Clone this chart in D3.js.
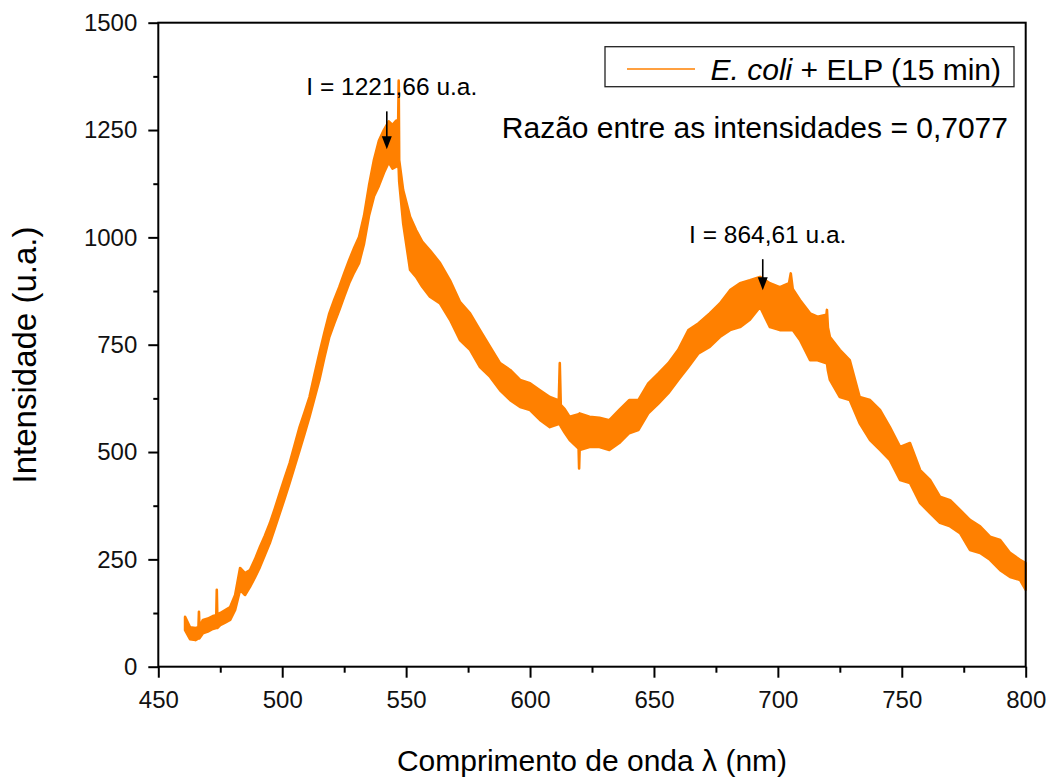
<!DOCTYPE html>
<html>
<head>
<meta charset="utf-8">
<script src="https://cdn.jsdelivr.net/npm/d3@7"></script>
<style>
  body { margin: 0; background: #fff; }
  text { font-family: "Liberation Sans", Arial, sans-serif; }
</style>
</head>
<body>
<div id="chart"></div>
<script>
// Spectrum envelope (the trace is very noisy, so it is drawn as a band
// between the upper and lower edges read off the picture)
const wavelength = [
  460.8, 462.8, 465, 466.2, 466.4, 466.6, 468, 470, 472, 473.4, 473.6, 473.8,
  475, 477, 479, 481, 483, 485, 487, 489, 491, 493, 495, 497, 499, 501, 503,
  505, 507, 509, 511, 513, 515, 517, 519, 521, 523, 525, 527, 529, 531, 533,
  535, 537, 539, 541, 543, 544.5, 546, 546.8, 547.0, 547.2, 548.8, 551.6, 554,
  556.5, 559.6, 563.7, 567.7, 571.7, 575.8, 579.8, 583.9, 587.9, 592, 596, 600,
  604, 608, 611.6, 612, 612.4, 614, 616, 619.6, 619.8, 620, 624, 628, 632, 636,
  640, 643.7, 647.7, 651.8, 655.8, 659.8, 663.9, 668, 672.5, 676.6, 680.7,
  684.7, 688.7, 692.8, 696.8, 700.8, 704.5, 705.2, 706, 708.9, 713, 716, 719.6,
  719.8, 720.2, 721, 725, 729, 733, 737.2, 741.2, 745.2, 749.3, 753.3, 757.4,
  761.4, 765.4, 769.5, 773.5, 777.5, 781.6, 785.6, 789.7, 793.7, 797.7, 800
];
const upper = [
  116, 92, 90, 92, 128, 92, 109, 112, 118, 120, 179, 122,
  125, 132, 139, 167, 230, 218, 225, 250, 279, 305, 334, 368, 404, 440, 474,
  516, 558, 592, 628, 680, 730, 778, 823, 855, 884, 916, 947, 975, 1001, 1050,
  1120, 1180, 1225, 1250, 1270, 1262, 1272, 1272, 1365, 1180, 1110, 1048, 1017,
  990, 970, 940, 900, 850, 823, 784, 745, 707, 691, 668, 660,
  644, 628, 620, 707, 610, 600, 582, 588, 588, 590, 582, 580, 574, 598,
  621, 621, 660, 683, 707, 738, 784, 800, 823, 846, 877,
  893, 900, 908, 893, 884, 893, 916, 880, 854, 823, 815, 820,
  831, 790, 768, 738, 714, 628, 621, 598, 558, 512, 521, 458,
  435, 396, 388, 365, 342, 327, 303, 295, 265, 249, 241
];
const lower = [
  85, 64, 62, 66, 66, 66, 78, 82, 88, 90, 90, 90,
  97, 103, 109, 132, 179, 167, 186, 208, 232, 260, 288, 322, 357, 392, 428,
  466, 504, 542, 582, 625, 668, 720, 768, 800, 830, 862, 893, 918, 940, 985,
  1050, 1095, 1120, 1150, 1175, 1160, 1165, 1165, 1160, 1130, 1033, 924, 908,
  885, 862, 846, 808, 761, 738, 698, 675, 644, 621, 605, 598,
  575, 558, 565, 565, 560, 545, 528, 508, 462, 505, 512, 512, 505, 521,
  544, 551, 590, 613, 637, 668, 698, 730, 745, 768, 784,
  791, 808, 838, 791, 784, 784, 784, 784, 761, 714, 714, 707,
  707, 690, 668, 628, 621, 567, 528, 505, 481, 435, 428, 381,
  358, 335, 327, 311, 272, 265, 249, 225, 209, 202, 179
];

const xTicks = [450, 500, 550, 600, 650, 700, 750, 800];
const yTicks = [0, 250, 500, 750, 1000, 1250, 1500];

const peakWavelength = [542.2, 693.9];
const peakTip = [1205, 877];
const peakLabel = ["I = 1221,66 u.a.", "I = 864,61 u.a."];

const seriesName = ["E. coli", " + ELP (15 min)"];
const ratioText = "Razão entre as intensidades = 0,7077";

const orange = "#ff8000";

// layout
const W = 1054, H = 780;
const margin = { left: 158.3, right: 28.3, top: 22.7, bottom: 113.3 };
const innerW = W - margin.left - margin.right;
const innerH = H - margin.top - margin.bottom;

const svg = d3.select("#chart").append("svg")
  .attr("width", W).attr("height", H);

const x = d3.scaleLinear().domain([450, 800]).range([margin.left, margin.left + innerW]);
const y = d3.scaleLinear().domain([0, 1500]).range([margin.top + innerH, margin.top]);

// spectrum band
const pts = wavelength.map((w, i) => ({ w: w, hi: upper[i], lo: lower[i] }));
svg.append("path")
  .datum(pts)
  .attr("d", d3.area().x(d => x(d.w)).y0(d => y(d.lo)).y1(d => y(d.hi)))
  .attr("fill", orange)
  .attr("stroke", orange)
  .attr("stroke-width", 2.6)
  .attr("stroke-linejoin", "round");

// frame
svg.append("rect")
  .attr("x", margin.left).attr("y", margin.top)
  .attr("width", innerW).attr("height", innerH)
  .attr("fill", "none").attr("stroke", "#000").attr("stroke-width", 2);

// axes
function styleAxis(g) {
  g.select(".domain").remove();
  g.selectAll("line").attr("stroke", "#000").attr("stroke-width", 2);
  g.selectAll("text").attr("font-size", 24).attr("fill", "#111")
    .style("font-family", "'Liberation Sans', Arial, sans-serif");
}

svg.append("g")
  .attr("transform", `translate(0,${margin.top + innerH})`)
  .call(d3.axisBottom(x).tickValues(xTicks).tickSize(11).tickPadding(13).tickFormat(d3.format("d")))
  .call(styleAxis);
svg.append("g")
  .attr("transform", `translate(0,${margin.top + innerH})`)
  .call(d3.axisBottom(x).tickValues(xTicks.slice(0, -1).map(v => v + 25)).tickSize(6).tickFormat(""))
  .call(styleAxis);

svg.append("g")
  .attr("transform", `translate(${margin.left},0)`)
  .call(d3.axisLeft(y).tickValues(yTicks).tickSize(10).tickPadding(11).tickFormat(d3.format("d")))
  .call(styleAxis);
svg.append("g")
  .attr("transform", `translate(${margin.left},0)`)
  .call(d3.axisLeft(y).tickValues(yTicks.slice(0, -1).map(v => v + 125)).tickSize(5).tickFormat(""))
  .call(styleAxis);

// axis titles
svg.append("text")
  .attr("x", x(625)).attr("y", 771)
  .attr("text-anchor", "middle")
  .attr("font-size", 30)
  .html("Comprimento de onda λ (nm)");

svg.append("text")
  .attr("transform", `translate(36,${355}) rotate(-90)`)
  .attr("text-anchor", "middle")
  .attr("font-size", 33)
  .text("Intensidade (u.a.)");

// legend
const legend = svg.append("g");
legend.append("rect")
  .attr("x", 605).attr("y", 46.7).attr("width", 409).attr("height", 40)
  .attr("fill", "#fff").attr("stroke", "#222").attr("stroke-width", 1.3);
legend.append("line")
  .attr("x1", 627).attr("x2", 695).attr("y1", 69).attr("y2", 69)
  .attr("stroke", orange).attr("stroke-width", 1.5);
const lt = legend.append("text")
  .attr("x", 1001).attr("y", 80)
  .attr("text-anchor", "end")
  .attr("font-size", 30);
lt.append("tspan").attr("font-style", "italic").text(seriesName[0]);
lt.append("tspan").text(seriesName[1]);

svg.append("text")
  .attr("x", 1008).attr("y", 138)
  .attr("text-anchor", "end")
  .attr("font-size", 30)
  .text(ratioText);

// peak annotations
const labelLift = [54, 47];
peakWavelength.forEach((w, i) => {
  const px = x(w), tip = y(peakTip[i]);
  const top = tip - labelLift[i] + 16;
  svg.append("line")
    .attr("x1", px).attr("x2", px)
    .attr("y1", top).attr("y2", tip - 8)
    .attr("stroke", "#000").attr("stroke-width", 1.6);
  svg.append("path")
    .attr("d", `M${px - 5},${tip - 13} L${px + 5},${tip - 13} L${px},${tip} Z`)
    .attr("fill", "#000");
  svg.append("text")
    .attr("x", px + 5).attr("y", tip - labelLift[i])
    .attr("text-anchor", "middle")
    .attr("font-size", 24.5)
    .text(peakLabel[i]);
});
</script>
</body>
</html>
